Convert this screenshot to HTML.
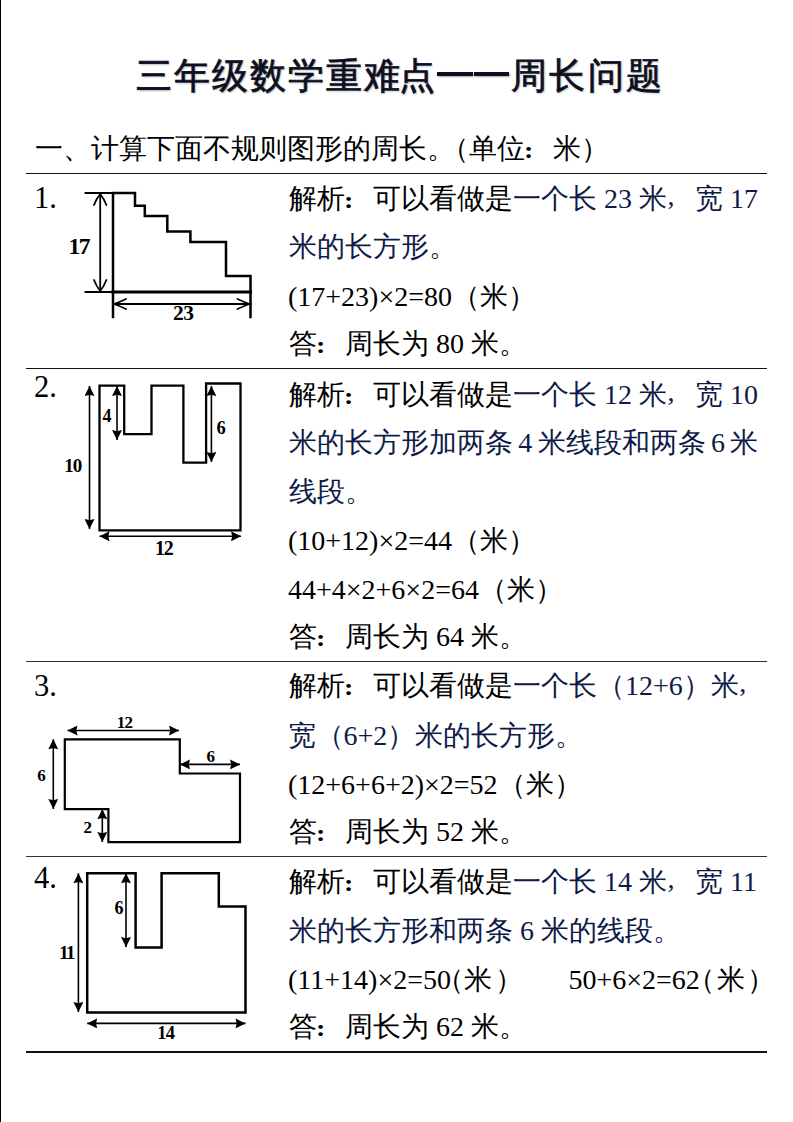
<!DOCTYPE html>
<html><head><meta charset="utf-8">
<style>
html,body{margin:0;padding:0;background:#fff;}
body{width:793px;height:1122px;position:relative;overflow:hidden;font-family:"Liberation Serif",serif;color:#000;}
.t{position:absolute;white-space:nowrap;font-size:28px;line-height:28px;}
.b{color:#0e1b48;}
.title{position:absolute;top:59px;font-size:35.5px;line-height:35.5px;letter-spacing:2.3px;white-space:nowrap;font-weight:normal;-webkit-text-stroke:0.7px #0b0f22;color:#0b0f22;font-family:"Liberation Sans",sans-serif;text-shadow:1px 1px 2px rgba(0,0,0,.35);}
.sep{position:absolute;left:26px;width:741px;height:1.5px;background:#111;}
svg{position:absolute;left:0;top:0;}
.num{position:absolute;font-size:30.5px;line-height:30.5px;}
.pc{font-style:normal;display:inline-block;width:28px;text-indent:-1px;font-weight:bold;transform:scale(1.0,0.8);transform-origin:0 23px;}
.cm{position:relative;top:-3px;text-indent:0.5px;font-weight:normal;transform:none;}
.d{font-family:"Liberation Serif",serif;font-weight:bold;}
</style></head><body>
<div style="position:absolute;left:0;top:0;width:1.3px;height:1122px;background:#000"></div>
<div class="title" style="left:135.5px;letter-spacing:2px">三年级数学重难<span style="margin-left:-3px">点</span></div>
<div style="position:absolute;left:436.5px;top:72.4px;width:36px;height:4px;background:#0b0f22;box-shadow:1px 1px 2px rgba(0,0,0,.35)"></div>
<div style="position:absolute;left:473.5px;top:72.4px;width:35.5px;height:4px;background:#0b0f22;box-shadow:1px 1px 2px rgba(0,0,0,.35)"></div>
<div class="title" style="left:511px">周长问题</div>
<div class="t" style="left:35px;top:135px">一、计算下面不规则图形的周长<span style="letter-spacing:-14px">。</span>（单位<i class="pc">:</i>米）</div>
<div class="sep" style="top:172.7px"></div>
<div class="sep" style="top:367.8px"></div>
<div class="sep" style="top:660.6px;background:#333"></div>
<div class="sep" style="top:855.8px;background:#333"></div>
<div class="sep" style="top:1051.2px"></div>

<div class="num" style="left:34px;top:183.4px">1.</div>
<div class="num" style="left:34px;top:372.2px">2.</div>
<div class="num" style="left:34px;top:671.3px">3.</div>
<div class="num" style="left:34px;top:863.4px">4.</div>

<!-- block 1 -->
<div class="t" style="left:289px;top:184.5px">解析<i class="pc">:</i>可以看做是<span class="b">一个长 23 米<i class="pc cm">,</i>宽 17</span></div>
<div class="t b" style="left:289px;top:232.5px">米的长方形。</div>
<div class="t" style="left:288px;top:283.0px">(17+23)×2=80（米）</div>
<div class="t" style="left:289px;top:330px">答<i class="pc">:</i>周长为 80 米。</div>

<!-- block 2 -->
<div class="t" style="left:289px;top:380.5px">解析<i class="pc">:</i>可以看做是<span class="b">一个长 12 米<i class="pc cm">,</i>宽 10</span></div>
<div class="t b" style="left:289px;top:428.5px;word-spacing:-1.7px">米的长方形加两条 4 米线段和两条 6 米</div>
<div class="t b" style="left:289px;top:477.5px">线段。</div>
<div class="t" style="left:288px;top:527.0px">(10+12)×2=44（米）</div>
<div class="t" style="left:288px;top:575.5px">44+4×2+6×2=64（米）</div>
<div class="t" style="left:289px;top:622.5px">答<i class="pc">:</i>周长为 64 米。</div>

<!-- block 3 -->
<div class="t" style="left:289px;top:672px">解析<i class="pc">:</i>可以看做是<span class="b">一个长（12+6）米<i class="pc cm">,</i></span></div>
<div class="t b" style="left:287.5px;top:721.5px">宽（6+2）米的长方形。</div>
<div class="t" style="left:288px;top:771.0px">(12+6+6+2)×2=52（米）</div>
<div class="t" style="left:289px;top:818px">答<i class="pc">:</i>周长为 52 米。</div>

<!-- block 4 -->
<div class="t" style="left:289px;top:867.8px">解析<i class="pc">:</i>可以看做是<span class="b">一个长 14 米<i class="pc cm">,</i>宽 11</span></div>
<div class="t b" style="left:289px;top:916.7px">米的长方形和两条 6 米的线段。</div>
<div class="t" style="left:288px;top:966.3px">(11+14)×2=50<span style="margin-left:-15px">（</span>米<span style="margin-left:3px">）</span></div>
<div class="t" style="left:568.5px;top:966.3px">50+6×2=62<span style="margin-left:-13px">（</span><span style="margin-left:2.5px">米</span><span style="margin-left:2px">）</span></div>
<div class="t" style="left:289px;top:1013.3px">答<i class="pc">:</i>周长为 62 米。</div>

<svg width="793" height="1122" viewBox="0 0 793 1122">
<defs>
<marker id="tri" viewBox="0 0 10 10" refX="10" refY="5" markerWidth="10.5" markerHeight="10" markerUnits="userSpaceOnUse" orient="auto-start-reverse"><path d="M0,0 L10,5 L0,10 L1.2,5 z" fill="#000"/></marker>
</defs>
<g fill="none" stroke="#000" stroke-linecap="square">
<!-- fig1 -->
<path stroke-width="2.5" d="M113,317 V193 H135 V205.7 H144.8 V216 H167.3 V231.5 H190.4 V242 H226 V276 H250.5 V317"/>
<path stroke-width="3.2" d="M113,292 H250.5"/>
<path stroke-width="1.8" d="M85.5,193 H113 M85.5,292 H113"/>
<path stroke-width="1.8" d="M100.2,194 V291 M113,304 H250.5"/>
<path stroke-width="1.8" stroke-linecap="round" d="M94,205 Q96.5,198.5 100.2,194 Q103.9,198.5 106.4,205 M94,280 Q96.5,286.5 100.2,291 Q103.9,286.5 106.4,280 M126,299 Q119,302.3 114,304 Q119,305.7 126,309 M237.5,299 Q244.5,302.3 249.5,304 Q244.5,305.7 237.5,309"/>
<!-- fig2 -->
<path stroke-width="2.3" d="M99.5,385.6 H124.2 V434.2 H151.5 V385.6 H183.4 V462.7 H206.1 V383.5 H240.5 V530.3 H99.5 Z"/>
<!-- fig3 -->
<path stroke-width="2.2" d="M64.8,739.3 H179.8 V773.5 H240 V842.2 H108.4 V809.2 H64.8 Z"/>
<!-- fig4 -->
<path stroke-width="2.5" d="M87.2,873.3 H135.6 V947.5 H161.6 V873.3 H218.8 V906.6 H245.5 V1012.5 H87.2 Z"/>
</g>
<g stroke="#000" stroke-width="1.6" fill="none">
<!-- fig2 arrows -->
<line x1="89.5" y1="386" x2="89.5" y2="529" marker-start="url(#tri)" marker-end="url(#tri)"/>
<line x1="117" y1="386" x2="117" y2="440" marker-start="url(#tri)" marker-end="url(#tri)"/>
<line x1="211.4" y1="386" x2="211.4" y2="462" marker-start="url(#tri)" marker-end="url(#tri)"/>
<line x1="99.5" y1="536.3" x2="241" y2="536.3" marker-start="url(#tri)" marker-end="url(#tri)"/>
<!-- fig3 arrows -->
<line x1="67.5" y1="730.5" x2="179" y2="730.5" marker-start="url(#tri)" marker-end="url(#tri)"/>
<line x1="180" y1="764.4" x2="240" y2="764.4" marker-start="url(#tri)" marker-end="url(#tri)"/>
<line x1="53.3" y1="739.3" x2="53.3" y2="809" marker-start="url(#tri)" marker-end="url(#tri)"/>
<line x1="102.3" y1="809.2" x2="102.3" y2="842" marker-start="url(#tri)" marker-end="url(#tri)"/>
<!-- fig4 arrows -->
<line x1="78.4" y1="873.3" x2="78.4" y2="1012" marker-start="url(#tri)" marker-end="url(#tri)"/>
<line x1="126" y1="873.3" x2="126" y2="947" marker-start="url(#tri)" marker-end="url(#tri)"/>
<line x1="87.2" y1="1023.4" x2="245.5" y2="1023.4" marker-start="url(#tri)" marker-end="url(#tri)"/>
</g>
<g font-family="Liberation Serif" font-weight="bold" fill="#000">
<text x="68.5" y="254" font-size="23.5" letter-spacing="-1.5">17</text>
<text x="173" y="319.5" font-size="21.5" letter-spacing="-0.5">23</text>
<text x="102.5" y="421.8" font-size="18">4</text>
<text x="216.6" y="434" font-size="18.5">6</text>
<text x="64.3" y="472" font-size="19" letter-spacing="-1">10</text>
<text x="155" y="555" font-size="20" letter-spacing="-1.2">12</text>
<text x="116.8" y="728.3" font-size="17" letter-spacing="-0.8">12</text>
<text x="206.5" y="762.3" font-size="17">6</text>
<text x="37.2" y="780.7" font-size="17">6</text>
<text x="83.5" y="833.3" font-size="17">2</text>
<text x="59" y="958.8" font-size="19.5" letter-spacing="-1.8">11</text>
<text x="114.5" y="913.8" font-size="18">6</text>
<text x="157.3" y="1039.3" font-size="18.5" letter-spacing="-0.8">14</text>
</g>
</svg>
</body></html>
